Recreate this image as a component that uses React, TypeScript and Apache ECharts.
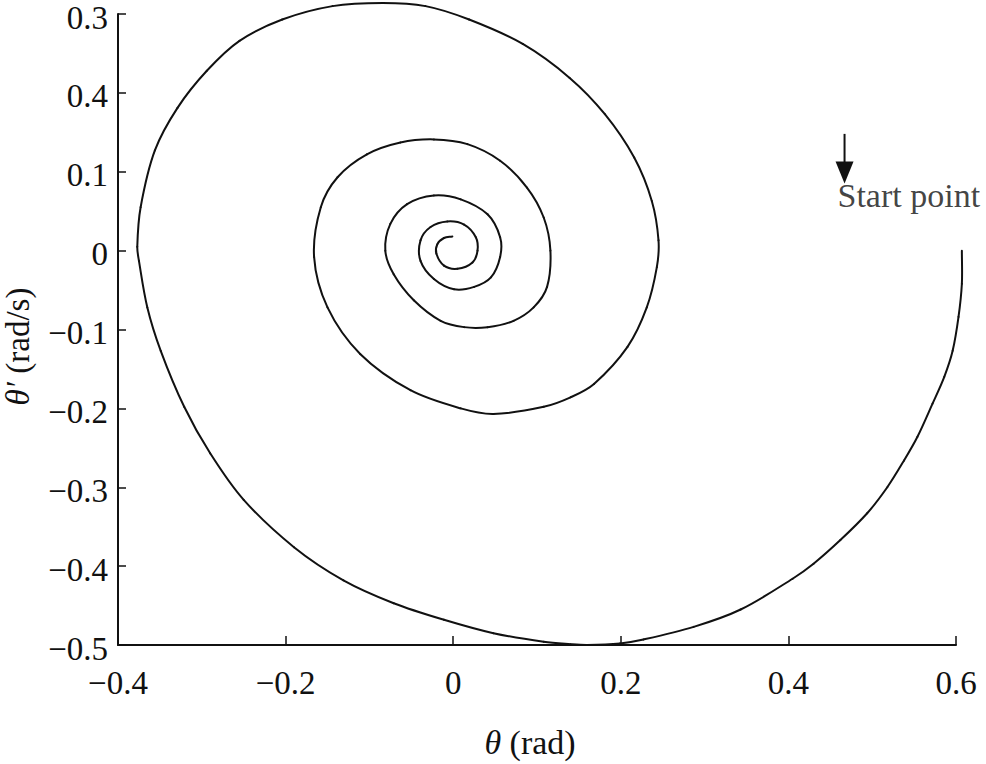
import React, { useEffect, useRef } from "react";
import * as echarts from "echarts";

// Phase trajectory: [θ (rad), θ' (rad/s)], from the start point inward
const trajectory: [number, number][] = [
  [0.607, 0.0], [0.607, -0.042], [0.603, -0.084], [0.596, -0.127], [0.586, -0.16],
  [0.572, -0.194], [0.554, -0.236], [0.538, -0.266], [0.518, -0.3], [0.494, -0.333],
  [0.462, -0.367], [0.43, -0.397], [0.405, -0.416], [0.343, -0.455], [0.287, -0.477],
  [0.227, -0.493], [0.199, -0.498], [0.16, -0.5], [0.14, -0.499],
  [0.108, -0.496], [0.048, -0.485], [-0.011, -0.468], [-0.071, -0.447], [-0.131, -0.418],
  [-0.19, -0.376], [-0.25, -0.316], [-0.29, -0.257], [-0.321, -0.198], [-0.349, -0.127],
  [-0.365, -0.072], [-0.375, -0.013], [-0.377, 0.005], [-0.373, 0.055], [-0.356, 0.127],
  [-0.329, 0.181], [-0.294, 0.228], [-0.255, 0.266], [-0.204, 0.293], [-0.144, 0.31],
  [-0.084, 0.314], [-0.033, 0.31], [0.019, 0.293], [0.083, 0.262], [0.139, 0.219],
  [0.181, 0.173], [0.216, 0.118], [0.237, 0.063], [0.245, 0.013], [0.243, -0.021],
  [0.231, -0.072], [0.208, -0.122], [0.168, -0.169], [0.14, -0.186], [0.108, -0.198],
  [0.048, -0.207], [0.009, -0.2], [-0.051, -0.177], [-0.111, -0.131], [-0.15, -0.072],
  [-0.166, -0.008], [-0.158, 0.055], [-0.138, 0.093], [-0.103, 0.122], [-0.063, 0.137],
  [-0.023, 0.141], [0.017, 0.135], [0.056, 0.114], [0.088, 0.08], [0.108, 0.042],
  [0.116, 0.0], [0.112, -0.046], [0.096, -0.072], [0.072, -0.089], [0.041, -0.097],
  [0.013, -0.097], [-0.015, -0.089], [-0.047, -0.063], [-0.071, -0.03], [-0.081, 0.0],
  [-0.075, 0.034], [-0.055, 0.059], [-0.023, 0.07], [0.009, 0.065], [0.041, 0.046],
  [0.056, 0.017], [0.056, -0.008], [0.045, -0.034], [0.025, -0.046], [0.001, -0.049],
  [-0.023, -0.036], [-0.039, -0.013], [-0.039, 0.013], [-0.027, 0.03], [-0.007, 0.037],
  [0.013, 0.033], [0.027, 0.017], [0.029, 0.0], [0.023, -0.015], [0.005, -0.023],
  [-0.011, -0.019], [-0.02, -0.004], [-0.019, 0.008], [-0.011, 0.016], [-0.001, 0.018],
];

// Axis ranges and tick labels as printed in the figure
const xRange = { min: -0.4, max: 0.6, step: 0.2 };
const yRange = { min: -0.5, max: 0.3, step: 0.1 };
const xTickLabels = ["−0.4", "−0.2", "0", "0.2", "0.4", "0.6"];
const yTickLabels = ["−0.5", "−0.4", "−0.3", "−0.2", "−0.1", "0", "0.1", "0.4", "0.3"];

// Annotation
const annotationText = "Start point";
const arrowFrom: [number, number] = [0.467, 0.148];
const arrowTo: [number, number] = [0.467, 0.099];
const annotationAnchor: [number, number] = [0.458, 0.07];

const FONT = '"Liberation Serif", "Times New Roman", Times, serif';
const INK = "#111";

export default function App() {
  const ref = useRef<HTMLDivElement>(null);

  useEffect(() => {
    if (!ref.current) return;
    const chart = echarts.init(ref.current, undefined, { renderer: "svg" });
    const n = trajectory.length;
    const unit = (a: number[], b: number[]) => {
      const dx = b[0] - a[0];
      const dy = b[1] - a[1];
      const l = Math.hypot(dx, dy) || 1;
      return [dx / l, dy / l];
    };
    chart.setOption({
      animation: false,
      backgroundColor: "#fff",
      textStyle: { fontFamily: FONT, color: INK },
      grid: {
        left: 118,
        top: 14,
        width: 838,
        height: 631,
        containLabel: false,
        outerBoundsMode: "none",
      },
      xAxis: {
        type: "value",
        min: xRange.min,
        max: xRange.max,
        interval: xRange.step,
        name: "{i|θ} (rad)",
        nameLocation: "middle",
        nameGap: 80,
        nameTextStyle: {
          fontFamily: FONT,
          fontSize: 34,
          color: INK,
          padding: [0, 14, 0, 0],
          rich: { i: { fontStyle: "italic", fontFamily: FONT, fontSize: 34, color: INK } },
        },
        axisLine: { show: true, onZero: false, lineStyle: { color: INK, width: 2 } },
        axisTick: { show: true, inside: true, length: 9, lineStyle: { color: INK, width: 1.5 } },
        splitLine: { show: false },
        axisLabel: {
          fontFamily: FONT,
          fontSize: 33,
          color: INK,
          margin: 21,
          formatter: (v: number) =>
            xTickLabels[Math.round((v - xRange.min) / xRange.step)] ?? String(v),
        },
      },
      yAxis: {
        type: "value",
        min: yRange.min,
        max: yRange.max,
        interval: yRange.step,
        name: "{i|θ′} (rad/s)",
        nameLocation: "middle",
        nameGap: 84,
        nameTextStyle: {
          fontFamily: FONT,
          fontSize: 33,
          color: INK,
          padding: [0, 34, 0, 0],
          rich: { i: { fontStyle: "italic", fontFamily: FONT, fontSize: 33, color: INK } },
        },
        axisLine: { show: true, onZero: false, lineStyle: { color: INK, width: 2 } },
        axisTick: { show: true, inside: true, length: 8, lineStyle: { color: INK, width: 1.5 } },
        splitLine: { show: false },
        axisLabel: {
          fontFamily: FONT,
          fontSize: 33,
          color: INK,
          margin: 10,
          verticalAlign: "top",
          lineHeight: 7,
          formatter: (v: number) =>
            yTickLabels[Math.round((v - yRange.min) / yRange.step)] ?? String(v),
        },
      },
      series: [
        {
          // smooth curve through the read points: one cubic segment per pair of points
          type: "custom",
          silent: true,
          clip: false,
          data: trajectory,
          encode: { x: 0, y: 1 },
          renderItem: (params: any, api: any) => {
            const i = params.dataIndex;
            if (i >= n - 1) return null;
            const c = (k: number) => api.coord(trajectory[Math.max(0, Math.min(n - 1, k))]);
            const p0 = c(i - 1);
            const p1 = c(i);
            const p2 = c(i + 1);
            const p3 = c(i + 2);
            const L = Math.hypot(p2[0] - p1[0], p2[1] - p1[1]) / 3;
            const t1 = unit(p0, p2);
            const t2 = unit(p1, p3);
            return {
              type: "bezierCurve",
              shape: {
                x1: p1[0],
                y1: p1[1],
                x2: p2[0],
                y2: p2[1],
                cpx1: p1[0] + t1[0] * L,
                cpy1: p1[1] + t1[1] * L,
                cpx2: p2[0] - t2[0] * L,
                cpy2: p2[1] - t2[1] * L,
              },
              style: { stroke: INK, lineWidth: 2, fill: "none", lineCap: "round" },
            };
          },
        },
        {
          type: "line",
          clip: false,
          silent: true,
          lineStyle: { color: INK, width: 2 },
          itemStyle: { color: INK },
          data: [
            { value: arrowFrom, symbol: "none" },
            { value: arrowTo, symbol: "triangle", symbolSize: [18, 22], symbolRotate: 180 },
          ],
        },
        {
          type: "scatter",
          silent: true,
          clip: false,
          symbolSize: 1,
          itemStyle: { color: "rgba(0,0,0,0)" },
          data: [annotationAnchor],
          label: {
            show: true,
            position: "right",
            distance: 0,
            formatter: annotationText,
            fontFamily: FONT,
            fontSize: 34,
            color: INK,
          },
        },
      ],
    });
    return () => chart.dispose();
  }, []);

  return (
    <div
      ref={ref}
      style={{ position: "fixed", left: 0, top: 0, width: 986, height: 764, background: "#fff" }}
    />
  );
}
